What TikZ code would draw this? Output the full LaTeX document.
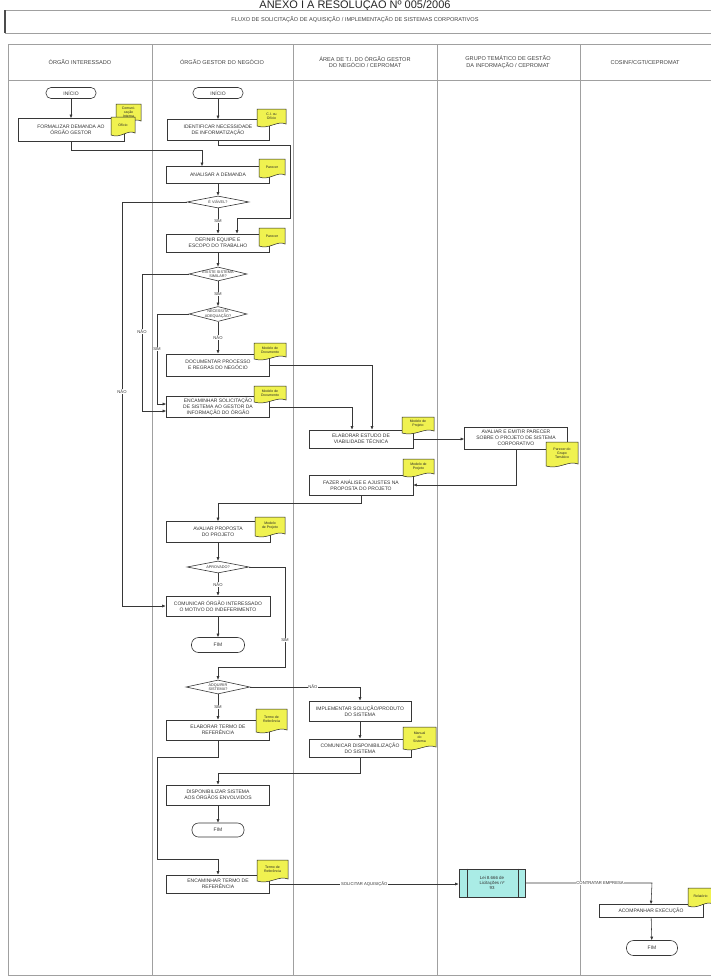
\documentclass[tikz,border=0pt]{standalone}
\usepackage{fontspec}
\setmainfont{Liberation Sans}
\usetikzlibrary{shapes.geometric,arrows.meta,calc}
\definecolor{notey}{RGB}{240,242,80}
\definecolor{cyanbox}{RGB}{170,236,230}
\definecolor{ln}{RGB}{55,55,55}
\definecolor{lanec}{RGB}{160,160,160}
\newcommand{\fontbox}{\fontsize{5}{6}\selectfont}
\newcommand{\fonthdr}{\fontsize{5.6}{6.8}\selectfont}
\newcommand{\fontnote}{\fontsize{3.5}{4.1}\selectfont}
\newcommand{\fontlbl}{\fontsize{4.2}{5}\selectfont}
\newcommand{\mynote}[6]{%
  \filldraw[notestyle] (#2,#3) -- (#4,#3) -- (#4,#5-3)
    .. controls ({#4-0.3*(#4-#2)},{#5-7}) and ({#2+0.4*(#4-#2)},{#5+3}) .. (#2,#5-1) -- cycle;
  \node[notetext] (#1) at ({(#2+#4)/2},{(#3+#5)/2-1.5}) {#6};}
\tikzset{
  x=1pt, y=-1pt,
  proc/.style={draw=ln, line width=0.6pt, fill=white, align=center, inner sep=1pt,
    font=\fontbox, text=black!80},
  term/.style={proc, rounded corners=5pt},
  dec/.style={diamond, draw=ln, line width=0.6pt, fill=white, inner sep=0pt},
  dtext/.style={font=\fontsize{3.8}{4.3}\selectfont, align=center, inner sep=0pt, text=black!80},
  hdr/.style={font=\fonthdr, align=center, text=black!75},
  flow/.style={draw=ln, line width=0.55pt, -{Latex[length=3.5pt,width=3pt]}},
  lbl/.style={fill=white, font=\fontlbl, inner sep=0.6pt, text=black!80},
  notestyle/.style={draw=black!85, line width=0.5pt, fill=notey},
  notetext/.style={font=\fontnote, align=center, inner sep=0pt, text=black!85},
  lanel/.style={draw=lanec, line width=0.6pt}
}
\begin{document}
\begin{tikzpicture}
\useasboundingbox (0,0) rectangle (710,977);
\fill[white] (0,0) rectangle (710,977);

% title
\node[font=\fontsize{11}{11}\selectfont, anchor=base, text=black!85] (anexo) at (355,8.6) {ANEXO I À RESOLUÇÃO Nº 005/2006};
\draw[lanel] (5,10) -- (712,10);
\draw[lanel] (5,33) -- (712,33);
\draw[draw=black!70, line width=1.4pt] (5,10) -- (5,33);
\node[font=\fontsize{5.6}{6.6}\selectfont, text=black!75] (fluxo) at (355,20) {FLUXO DE SOLICITAÇÃO DE AQUISIÇÃO / IMPLEMENTAÇÃO DE SISTEMAS CORPORATIVOS};

% lanes
\draw[lanel] (8,44) -- (712,44);
\draw[lanel] (8,80) -- (712,80);
\draw[lanel] (8,975) -- (712,975);
\draw[lanel] (8,44) -- (8,975);
\foreach \xx in {152,293,437,580} {\draw[lanel] (\xx,44) -- (\xx,975);}
\node[hdr] (h1) at (80,62) {ÓRGÃO INTERESSADO};
\node[hdr] (h2) at (222,62) {ÓRGÃO GESTOR DO NEGÓCIO};
\node[hdr] (h3) at (365,62) {ÁREA DE T.I. DO ÓRGÃO GESTOR\\DO NEGÓCIO / CEPROMAT};
\node[hdr] (h4) at (508,62) {GRUPO TEMÁTICO DE GESTÃO\\DA INFORMAÇÃO / CEPROMAT};
\node[hdr] (h5) at (645,62) {COSINF/CGTI/CEPROMAT};

% nodes
\node[term, minimum width=50pt, minimum height=11pt] (i1) at (71,93) {INÍCIO};
\node[term, minimum width=50pt, minimum height=11pt] (i2) at (218,93) {INÍCIO};
\node[proc, minimum width=106pt, minimum height=23pt] (b1) at (71,130) {FORMALIZAR DEMANDA AO\\ÓRGÃO GESTOR};
\node[proc, minimum width=102pt, minimum height=21pt] (b2) at (218,130) {IDENTIFICAR NECESSIDADE\\DE INFORMATIZAÇÃO};
\node[proc, minimum width=103pt, minimum height=17pt] (b3) at (218,175) {ANALISAR A DEMANDA};
\node[dec, minimum width=62pt, minimum height=12pt, label={[dtext]center:{É VIÁVEL?}}] (d1) at (218,202) {};
\node[proc, minimum width=103pt, minimum height=18pt] (b4) at (218,243) {DEFINIR EQUIPE E\\ESCOPO DO TRABALHO};
\node[dec, minimum width=58pt, minimum height=14pt, label={[dtext]center:{EXISTE SISTEMA\\SIMILAR?}}] (d2) at (218,274) {};
\node[dec, minimum width=58pt, minimum height=15pt, label={[dtext]center:{NECESSITA\\ADEQUAÇÃO?}}] (d3) at (218,314) {};
\node[proc, minimum width=103pt, minimum height=22pt] (b5) at (218,365) {DOCUMENTAR PROCESSO\\E REGRAS DO NEGÓCIO};
\node[proc, minimum width=103pt, minimum height=21pt] (b6) at (218,407) {ENCAMINHAR SOLICITAÇÃO\\DE SISTEMA AO GESTOR DA\\INFORMAÇÃO DO ÓRGÃO};
\node[proc, minimum width=104pt, minimum height=18pt] (b7) at (361,439) {ELABORAR ESTUDO DE\\VIABILIDADE TÉCNICA};
\node[proc, minimum width=103pt, minimum height=22pt] (b8) at (516,438) {AVALIAR E EMITIR PARECER\\SOBRE O PROJETO DE SISTEMA\\CORPORATIVO};
\node[proc, minimum width=104pt, minimum height=20pt] (b9) at (361,485) {FAZER ANÁLISE E AJUSTES NA\\PROPOSTA DO PROJETO};
\node[proc, minimum width=104pt, minimum height=21pt] (b10) at (218,532) {AVALIAR PROPOSTA\\DO PROJETO};
\node[dec, minimum width=62pt, minimum height=12pt, label={[dtext]center:{APROVADO?}}] (d4) at (218,567) {};
\node[proc, minimum width=104pt, minimum height=20pt] (b11) at (218,606) {COMUNICAR ÓRGÃO INTERESSADO\\O MOTIVO DO INDEFERIMENTO};
\node[term, minimum width=53pt, minimum height=15pt, rounded corners=7pt] (f1) at (218,645) {FIM};
\node[dec, minimum width=64pt, minimum height=14pt, label={[dtext]center:{ADQUIRIR\\SISTEMA?}}] (d5) at (218,687) {};
\node[proc, minimum width=102pt, minimum height=20pt] (b12) at (360,711) {IMPLEMENTAR SOLUÇÃO/PRODUTO\\DO SISTEMA};
\node[proc, minimum width=103pt, minimum height=20pt] (b13) at (218,730) {ELABORAR TERMO DE\\REFERÊNCIA};
\node[proc, minimum width=102pt, minimum height=18pt] (b14) at (360,748) {COMUNICAR DISPONIBILIZAÇÃO\\DO SISTEMA};
\node[proc, minimum width=103pt, minimum height=20pt] (b15) at (218,795) {DISPONIBILIZAR SISTEMA\\AOS ÓRGÃOS ENVOLVIDOS};
\node[term, minimum width=52pt, minimum height=14pt, rounded corners=6.5pt] (f2) at (218,830) {FIM};
\node[proc, minimum width=103pt, minimum height=18pt] (b16) at (218,884) {ENCAMINHAR TERMO DE\\REFERÊNCIA};
\node[proc, fill=cyanbox, minimum width=66pt, minimum height=28pt, font=\fontsize{4.4}{5.4}\selectfont] (b17) at (492,883) {Lei 8.666 de\\Licitações nº\\93};
\draw[draw=ln, line width=0.5pt] ([xshift=9pt]b17.north west) -- ([xshift=9pt]b17.south west);
\draw[draw=ln, line width=0.5pt] ([xshift=-7pt]b17.north east) -- ([xshift=-7pt]b17.south east);
\node[proc, minimum width=104pt, minimum height=13pt] (b18) at (651,911) {ACOMPANHAR EXECUÇÃO};
\node[term, minimum width=51pt, minimum height=15pt, rounded corners=7pt] (f3) at (652,948) {FIM};

% connectors
\draw[flow] (i1) -- (b1);
\draw[flow] (b1.south) -- (71,150) -- (202,150) -- ([xshift=-16pt]b3.north);
\draw[flow] (i2) -- (b2);
\draw[flow] (b2.south) -- (218,145) -- (290,145) -- (290,218) -- (237,218) -- ([xshift=19pt]b4.north);
\draw[flow] (b3) -- (d1);
\draw[flow] (d1) -- node[lbl]{SIM} (b4);
\draw[flow] (d1.west) -- (122,202) -- node[lbl,pos=0.47]{NÃO} (122,606) -- (b11.west);
\draw[flow] (b4) -- (d2);
\draw[flow] (d2.west) -- (142,274) -- node[lbl,pos=0.42]{NÃO} (142,411) -- ([yshift=-4pt]b6.west);
\draw[flow] (d2) -- node[lbl]{SIM} (d3);
\draw[flow] (d3.west) -- (157,314) -- node[lbl,pos=0.39]{SIM} (157,404) -- ([yshift=3pt]b6.west);
\draw[flow] (d3) -- node[lbl]{NÃO} (b5);
\draw[flow] (b5.east) -- (372,365) -- ([xshift=11pt]b7.north);
\draw[flow] (b6.east) -- (352,407) -- ([xshift=-9pt]b7.north);
\draw[flow] (b7.east) -- (b7.east -| b8.west);
\draw[flow] (b8.south) -- (516,485) -- (b9.east);
\draw[flow] (b9.south) -- (361,503) -- (218,503) -- (b10.north);
\draw[flow] (b10) -- (d4);
\draw[flow] (d4) -- node[lbl]{NÃO} (b11);
\draw[flow] (b11) -- (f1);
\draw[flow] (d4.east) -- (285,567) -- node[lbl,pos=0.73]{SIM} (285,667) -- (218,667) -- (d5.north);
\draw[flow] (d5.east) -- node[lbl,pos=0.57]{NÃO} (360,687) -- (b12.north);
\draw[flow] (d5) -- node[lbl]{SIM} (b13);
\draw[flow] (b12) -- (b14);
\draw[flow] (b14.south) -- (360,773) -- (218,773) -- (b15.north);
\draw[flow] (b15) -- (f2);
\draw[flow] (b13.south) -- (218,757) -- (157,757) -- (157,859) -- (218,859) -- (b16.north);
\draw[flow] (b16.east) -- node[lbl]{SOLICITAR AQUISIÇÃO} (b16.east -| b17.west);
\draw[flow] (b17.east) -- node[lbl,pos=0.59]{CONTRATAR EMPRESA} (652,883) -- (b18.north);
\draw[flow] (b18) -- (f3);

% notes
\mynote{n1a}{116}{104}{141}{124}{Comuni-\\cação\\Interna}
\mynote{n1b}{111}{117}{135}{136}{Ofício}
\mynote{n2}{257}{109}{286}{127}{C.I. ou\\Ofício}
\mynote{n3}{259}{159}{285}{178}{Parecer}
\mynote{n4}{259}{228}{285}{247}{Parecer}
\mynote{n5}{254}{343}{286}{360}{Modelo de\\Documento}
\mynote{n6}{254}{386}{286}{403}{Modelo de\\Documento}
\mynote{n7}{402}{417}{434}{434}{Modelo de\\Projeto}
\mynote{n8}{546}{442}{578}{467}{Parecer do\\Grupo\\Temático}
\mynote{n9}{403}{459}{434}{477}{Modelo de\\Projeto}
\mynote{n10}{255}{517}{285}{537}{Modelo\\de Projeto}
\mynote{n13}{256}{709}{287}{733}{Termo de\\Referência}
\mynote{n14}{403}{727}{436}{750}{Manual\\do\\Sistema}
\mynote{n16}{257}{860}{288}{882}{Termo de\\Referência}
\mynote{n18}{688}{888}{713}{907}{Relatório}
\end{tikzpicture}
\end{document}
